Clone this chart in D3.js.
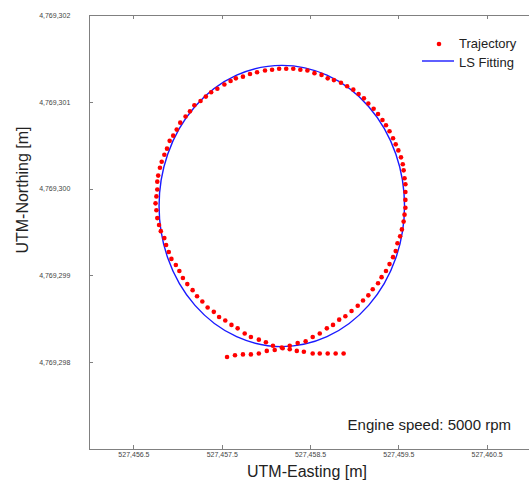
<!DOCTYPE html>
<html>
<head>
<meta charset="utf-8">
<script src="https://cdn.jsdelivr.net/npm/d3@7"></script>
<style>
  body { margin: 0; background: #fff; }
  svg { display: block; font-family: Arial, "Liberation Sans", sans-serif; }
  .axis path, .axis line { stroke: #808080; shape-rendering: crispEdges; }
  .axis text { fill: #444; font-size: 7px; }
</style>
</head>
<body>
<div id="chart"></div>
<script>
// measured trajectory (UTM, metres), in driving order
var easting = [
  527457.56, 527457.65, 527457.74, 527457.83, 527457.92, 527458.01, 527458.10, 527458.19, 527458.27, 527458.36,
  527458.45, 527458.53, 527458.61, 527458.69, 527458.76, 527458.83, 527458.90, 527458.97, 527459.04, 527459.10,
  527459.16, 527459.21, 527459.27, 527459.31, 527459.36, 527459.40, 527459.44, 527459.47, 527459.49, 527459.52,
  527459.54, 527459.56, 527459.57, 527459.58, 527459.58, 527459.58, 527459.58, 527459.57, 527459.56, 527459.55,
  527459.53, 527459.50, 527459.47, 527459.44, 527459.40, 527459.36, 527459.32, 527459.27, 527459.22, 527459.16,
  527459.11, 527459.05, 527458.99, 527458.92, 527458.85, 527458.77, 527458.70, 527458.63, 527458.55, 527458.47,
  527458.39, 527458.31, 527458.23, 527458.15, 527458.07, 527457.99, 527457.90, 527457.82, 527457.74, 527457.66,
  527457.60, 527457.53, 527457.45, 527457.38, 527457.32, 527457.26, 527457.19, 527457.14, 527457.09, 527457.03,
  527456.99, 527456.95, 527456.91, 527456.88, 527456.85, 527456.82, 527456.80, 527456.78, 527456.77, 527456.77,
  527456.76, 527456.75, 527456.76, 527456.77, 527456.79, 527456.81, 527456.85, 527456.87, 527456.90, 527456.93,
  527456.98, 527457.02, 527457.06, 527457.11, 527457.17, 527457.22, 527457.28, 527457.34, 527457.41, 527457.47,
  527457.54, 527457.61, 527457.68, 527457.76, 527457.83, 527457.92, 527458.00, 527458.08, 527458.18, 527458.27,
  527458.35, 527458.43, 527458.53, 527458.61, 527458.70, 527458.79, 527458.88
];
var northing = [
  4769298.06, 4769298.08, 4769298.09, 4769298.09, 4769298.10, 4769298.13, 4769298.14, 4769298.16, 4769298.19, 4769298.22,
  4769298.24, 4769298.29, 4769298.33, 4769298.39, 4769298.43, 4769298.49, 4769298.53, 4769298.59, 4769298.65, 4769298.71,
  4769298.77, 4769298.84, 4769298.91, 4769298.98, 4769299.05, 4769299.13, 4769299.21, 4769299.28, 4769299.37, 4769299.45,
  4769299.53, 4769299.62, 4769299.70, 4769299.78, 4769299.87, 4769299.96, 4769300.05, 4769300.12, 4769300.21, 4769300.28,
  4769300.36, 4769300.44, 4769300.51, 4769300.58, 4769300.66, 4769300.73, 4769300.79, 4769300.86, 4769300.92, 4769300.98,
  4769301.04, 4769301.09, 4769301.14, 4769301.18, 4769301.22, 4769301.25, 4769301.27, 4769301.31, 4769301.33, 4769301.36,
  4769301.37, 4769301.38, 4769301.38, 4769301.38, 4769301.37, 4769301.36, 4769301.34, 4769301.32, 4769301.29, 4769301.27,
  4769301.24, 4769301.20, 4769301.15, 4769301.11, 4769301.06, 4769301.01, 4769300.96, 4769300.89, 4769300.83, 4769300.76,
  4769300.68, 4769300.61, 4769300.55, 4769300.46, 4769300.39, 4769300.31, 4769300.24, 4769300.15, 4769300.08, 4769299.99,
  4769299.91, 4769299.83, 4769299.75, 4769299.66, 4769299.58, 4769299.51, 4769299.43, 4769299.35, 4769299.27, 4769299.19,
  4769299.12, 4769299.05, 4769298.97, 4769298.90, 4769298.83, 4769298.76, 4769298.70, 4769298.63, 4769298.58, 4769298.52,
  4769298.48, 4769298.43, 4769298.39, 4769298.33, 4769298.29, 4769298.26, 4769298.23, 4769298.19, 4769298.17, 4769298.15,
  4769298.13, 4769298.12, 4769298.10, 4769298.10, 4769298.10, 4769298.10, 4769298.10
];

// least squares fit: centre and semi-axes (metres)
var fitCenter = [527458.18, 4769299.80];
var fitRadius = [1.39, 1.62];

var xTicks = [527456.5, 527457.5, 527458.5, 527459.5, 527460.5];
var yTicks = [4769298, 4769299, 4769300, 4769301, 4769302];
var legendLabels = ["Trajectory", "LS Fitting"];
var note = "Engine speed: 5000 rpm";

function draw() {
    var W = 529, H = 487;
    var plotLeft = 89.3, plotRight = 530.8, plotTop = 15, plotBottom = 449;

    var svg = d3.select("#chart").append("svg")
        .attr("width", W).attr("height", H);

    var x = d3.scaleLinear().domain([527456, 527461]).range([plotLeft, plotRight]);
    var y = d3.scaleLinear().domain([4769297, 4769302]).range([plotBottom, plotTop]);

    // axes (ticks point inward)
    svg.append("g").attr("class", "axis")
        .attr("transform", "translate(0," + plotBottom + ")")
        .call(d3.axisBottom(x).tickValues(xTicks).tickFormat(d3.format(",.1f"))
              .tickSizeInner(-4).tickSizeOuter(0).tickPadding(3));
    svg.append("g").attr("class", "axis")
        .attr("transform", "translate(0," + plotTop + ")")
        .call(d3.axisTop(x).tickValues(xTicks).tickFormat("")
              .tickSizeInner(-4).tickSizeOuter(0));
    svg.append("g").attr("class", "axis")
        .attr("transform", "translate(" + plotLeft + ",0)")
        .call(d3.axisLeft(y).tickValues(yTicks).tickFormat(d3.format(",d"))
              .tickSizeInner(-4).tickSizeOuter(0).tickPadding(19));

    // fitted curve
    svg.append("ellipse")
        .attr("cx", x(fitCenter[0]))
        .attr("cy", y(fitCenter[1]))
        .attr("rx", x(fitCenter[0] + fitRadius[0]) - x(fitCenter[0]))
        .attr("ry", y(fitCenter[1]) - y(fitCenter[1] + fitRadius[1]))
        .attr("fill", "none")
        .attr("stroke", "#1a1aff")
        .attr("stroke-width", 1.4);

    // trajectory dots
    svg.append("g").selectAll("circle")
        .data(d3.range(easting.length))
        .enter().append("circle")
        .attr("cx", function(i) { return x(easting[i]); })
        .attr("cy", function(i) { return y(northing[i]); })
        .attr("r", 2.3)
        .attr("fill", "#ff0000");

    // legend
    var lg = svg.append("g").attr("transform", "translate(459,0)");
    lg.append("circle").attr("cx", -20).attr("cy", 44).attr("r", 2.3).attr("fill", "#ff0000");
    lg.append("line").attr("x1", -37).attr("x2", -5).attr("y1", 61).attr("y2", 61)
        .attr("stroke", "#1a1aff").attr("stroke-width", 1.4);
    lg.selectAll("text").data(legendLabels)
        .enter().append("text")
        .attr("x", 0)
        .attr("y", function(d, i) { return 48 + i * 19; })
        .attr("font-size", 13)
        .attr("fill", "#222")
        .text(function(d) { return d; });

    // annotation
    svg.append("text")
        .attr("x", 511).attr("y", 430)
        .attr("text-anchor", "end")
        .attr("font-size", 15)
        .attr("fill", "#222")
        .text(note);

    // axis titles
    svg.append("text")
        .attr("x", 307).attr("y", 477)
        .attr("text-anchor", "middle")
        .attr("font-size", 16)
        .attr("fill", "#222")
        .text("UTM-Easting [m]");
    svg.append("text")
        .attr("transform", "translate(28,190) rotate(-90)")
        .attr("text-anchor", "middle")
        .attr("font-size", 16)
        .attr("fill", "#222")
        .text("UTM-Northing [m]");
}

draw();
</script>
</body>
</html>
